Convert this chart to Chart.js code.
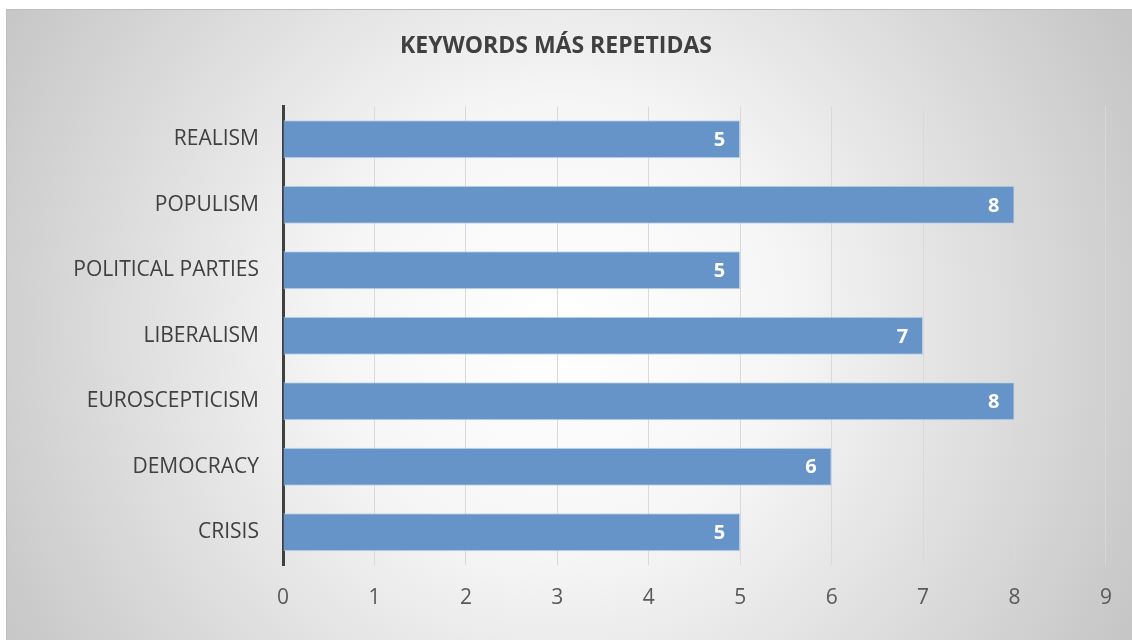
<!DOCTYPE html>
<html>
<head>
<meta charset="utf-8">
<script src="https://cdn.jsdelivr.net/npm/chart.js@4.4.0/dist/chart.umd.min.js"></script>
<style>
  html, body { margin: 0; padding: 0; background: #fff; }
  #wrap { width: 1132px; height: 640px; position: relative; }
</style>
</head>
<body>
<div id="wrap"><canvas id="keywordsChart"></canvas></div>
<script>
// Chart data
const keywords = ['REALISM', 'POPULISM', 'POLITICAL PARTIES', 'LIBERALISM', 'EUROSCEPTICISM', 'DEMOCRACY', 'CRISIS'];
const counts = [5, 8, 5, 7, 8, 6, 5];
const axisMin = 0;
const axisMax = 9;

const fontFamily = '"Open Sans", "Liberation Sans", sans-serif';

// Background with soft radial gradient and frame
const backgroundPlugin = {
  id: 'background',
  beforeDraw(chart) {
    const ctx = chart.ctx;
    const w = chart.width, h = chart.height;
    ctx.save();
    ctx.fillStyle = '#ffffff';
    ctx.fillRect(0, 0, w, h);
    const g = ctx.createRadialGradient(560, 330, 0, 560, 330, 640);
    g.addColorStop(0, '#ffffff');
    g.addColorStop(0.35, '#f6f6f6');
    g.addColorStop(1, '#c6c6c6');
    ctx.fillStyle = g;
    ctx.fillRect(6, 9, w - 6, h - 9);
    ctx.strokeStyle = '#bdbdbd';
    ctx.lineWidth = 1;
    ctx.strokeRect(6.5, 9.5, w, h);
    ctx.restore();
  }
};

// Value labels inside the end of each bar
const valueLabels = {
  id: 'valueLabels',
  afterDatasetsDraw(chart) {
    const ctx = chart.ctx;
    const meta = chart.getDatasetMeta(0);
    ctx.save();
    ctx.font = 'bold 20px ' + fontFamily;
    ctx.fillStyle = '#ffffff';
    ctx.textAlign = 'right';
    ctx.textBaseline = 'middle';
    meta.data.forEach((bar, i) => {
      ctx.fillText(String(counts[i]), bar.x - 15, bar.y + 1);
    });
    ctx.restore();
  }
};

const ctx = document.getElementById('keywordsChart').getContext('2d');
new Chart(ctx, {
  type: 'bar',
  data: {
    labels: keywords,
    datasets: [
      {
        label: 'Keywords',
        data: counts,
        backgroundColor: '#6794c8',
        borderColor: 'rgba(190, 210, 235, 0.9)',
        borderWidth: 1,
        borderSkipped: 'start',
        barPercentage: 0.58,
        categoryPercentage: 1.0
      }
    ]
  },
  options: {
    indexAxis: 'y',
    responsive: true,
    maintainAspectRatio: false,
    animation: false,
    layout: {
      padding: { left: 0, right: 20, top: 0, bottom: 0 }
    },
    plugins: {
      legend: { display: false },
      tooltip: { enabled: false },
      title: {
        display: true,
        text: 'KEYWORDS MÁS REPETIDAS',
        color: '#404040',
        font: { family: fontFamily, size: 23, weight: 'bold' },
        padding: { top: 33, bottom: 46 }
      }
    },
    scales: {
      x: {
        min: axisMin,
        max: axisMax,
        ticks: {
          stepSize: 1,
          color: '#595959',
          font: { family: fontFamily, size: 21 },
          padding: 20
        },
        grid: {
          color: '#d9d9d9',
          lineWidth: 1,
          drawTicks: false
        },
        border: { display: false },
        afterFit: s => { s.height = 75; }
      },
      y: {
        ticks: {
          color: '#404040',
          font: { family: fontFamily, size: 21 },
          padding: 24
        },
        grid: { display: false, drawTicks: false },
        border: { display: true, color: '#404040', width: 3 },
        afterFit: s => { s.width = 283; }
      }
    }
  },
  plugins: [backgroundPlugin, valueLabels]
});
</script>
</body>
</html>
